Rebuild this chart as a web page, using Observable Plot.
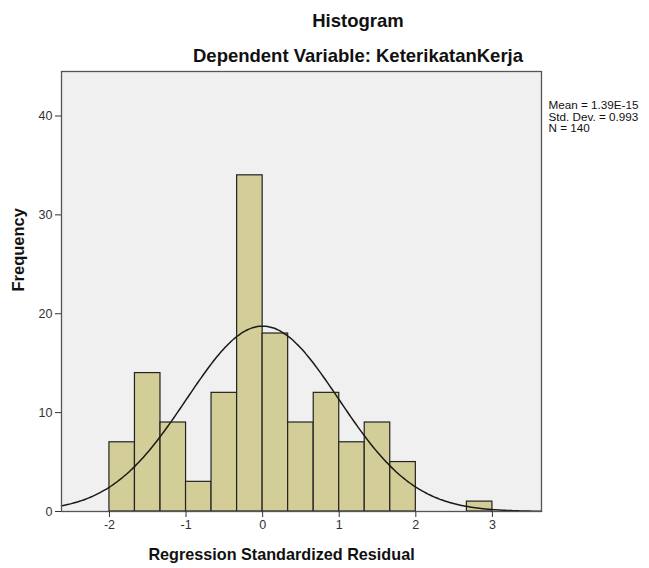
<!DOCTYPE html>
<html>
<head>
<meta charset="utf-8">
<script src="https://cdn.jsdelivr.net/npm/d3@7"></script>
<script src="https://cdn.jsdelivr.net/npm/@observablehq/plot@0.6"></script>
<style>
  body { margin: 0; background: #fff; }
  #chart svg { display: block; }
</style>
</head>
<body>
<div id="chart"></div>
<script>
// ---- data ----
const binStarts = [-2, -1.667, -1.333, -1, -0.667, -0.333, 0, 0.333, 0.667, 1, 1.333, 1.667, 2, 2.333, 2.667];
const counts    = [ 7,     14,      9,  3,     12,     34, 18,     9,    12,  7,     9,     5, 0,     0,     1];
const binWidth = 0.3333;
const xTicks = [-2, -1, 0, 1, 2, 3];
const yTicks = [0, 10, 20, 30, 40];
const statMean = 1.39e-15;
const statSd = 0.993;
const statN = 140;
const statsLabel = "Mean = 1.39E-15\nStd. Dev. = 0.993\nN = 140";
const titleText = "Histogram";
const subtitleText = "Dependent Variable: KeterikatanKerja";
const xLabel = "Regression Standardized Residual";
const yLabel = "Frequency";
const xDomain = [-2.626, 3.641];
const yDomain = [0, 44.5];

// table for the bars
const bins = binStarts
  .map((s, i) => ({x1: s, x2: s + binWidth, count: counts[i]}))
  .filter(d => d.count > 0);

// normal curve implied by the stated mean, SD and N
const curve = d3.range(0, 241).map(i => {
  const x = xDomain[0] + (xDomain[1] - xDomain[0]) * i / 240;
  const z = (x - statMean) / statSd;
  return {x, y: statN * binWidth * Math.exp(-0.5 * z * z) / (statSd * Math.sqrt(2 * Math.PI))};
});

const font = "'Liberation Sans', Arial, sans-serif";

const chart = Plot.plot({
  width: 649,
  height: 568,
  marginLeft: 61,
  marginRight: 108,
  marginTop: 71,
  marginBottom: 57,
  style: {fontFamily: font, fontSize: "12px", color: "#333", background: "#fff", overflow: "visible"},
  x: {domain: xDomain, ticks: xTicks, tickSize: 6, tickPadding: 3, tickFormat: d => String(d), label: null},
  y: {domain: yDomain, ticks: yTicks, tickSize: 6, tickPadding: 3, label: null},
  marks: [
    Plot.frame({fill: "#f0f0f0", stroke: null}),
    Plot.rectY(bins, {x1: "x1", x2: "x2", y: "count", fill: "#d3ce97", stroke: "#222", strokeWidth: 1.2}),
    Plot.line(curve, {x: "x", y: "y", stroke: "#1a1a1a", strokeWidth: 1.5, curve: "basis"}),
    Plot.frame({stroke: "#555", strokeWidth: 1.3}),
    Plot.axisX({ticks: xTicks, tickSize: 6, tickPadding: 3, tickFormat: d => String(d), fontSize: 12.5, label: null}),
    Plot.axisY({ticks: yTicks, tickSize: 6, tickPadding: 3, fontSize: 12.5, label: null}),
    Plot.text([titleText], {frameAnchor: "top", dx: 56.5, dy: -50, fontSize: 18.5, fontWeight: "bold", fill: "#111", lineAnchor: "middle"}),
    Plot.text([subtitleText], {frameAnchor: "top", dx: 56.5, dy: -15, fontSize: 18.5, fontWeight: "bold", fill: "#111", lineAnchor: "middle"}),
    Plot.text([statsLabel], {frameAnchor: "top-right", dx: 7, dy: 29, textAnchor: "start", lineAnchor: "top", fontSize: 11.7, lineHeight: 1.0, fill: "#111"}),
    Plot.text([xLabel], {frameAnchor: "bottom", dx: -20, dy: 43, fontSize: 16.2, fontWeight: "bold", fill: "#111", lineAnchor: "middle"}),
    Plot.text([yLabel], {frameAnchor: "left", dx: -42.5, rotate: -90, fontSize: 16.5, fontWeight: "bold", fill: "#111", lineAnchor: "middle"})
  ]
});
document.getElementById("chart").appendChild(chart);
</script>
</body>
</html>
